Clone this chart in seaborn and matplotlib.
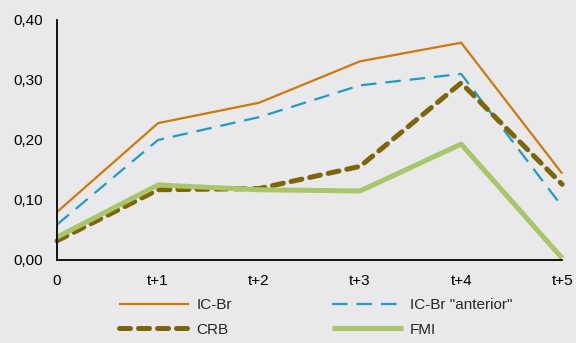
import matplotlib
matplotlib.use("Agg")
import matplotlib.pyplot as plt
import seaborn as sns
import pandas as pd
from matplotlib.ticker import FuncFormatter

periods = ["0", "t+1", "t+2", "t+3", "t+4", "t+5"]
ic_br = [0.080, 0.228, 0.262, 0.331, 0.362, 0.144]
ic_br_anterior = [0.059, 0.200, 0.238, 0.291, 0.310, 0.089]
crb = [0.032, 0.117, 0.119, 0.156, 0.295, 0.126]
fmi = [0.038, 0.125, 0.117, 0.115, 0.193, 0.003]

series = {
    "IC-Br": ic_br,
    'IC-Br "anterior"': ic_br_anterior,
    "CRB": crb,
    "FMI": fmi,
}
styles = {
    "IC-Br": dict(color="#cc7a0a", lw=1.6, ls="-"),
    'IC-Br "anterior"': dict(color="#1e9cc4", lw=1.6, ls=(0, (7, 4))),
    "CRB": dict(color="#7d6608", lw=3.6, ls=(0, (2.2, 1.6))),
    "FMI": dict(color="#a9c66a", lw=3.6, ls="-"),
}

sns.set_style("white")
plt.rcParams["font.family"] = ["Liberation Sans", "DejaVu Sans"]

fig = plt.figure(figsize=(5.76, 3.43), dpi=100)
bg = "#e9e9ec"
fig.patch.set_facecolor(bg)
ax = fig.add_axes([0.099, 0.242, 0.877, 0.700])
ax.set_facecolor(bg)

xs = list(range(len(periods)))
for name, vals in series.items():
    df = pd.DataFrame({"x": xs, "y": vals})
    st = styles[name]
    sns.lineplot(data=df, x="x", y="y", ax=ax, color=st["color"],
                 linewidth=st["lw"], label=name)
    l = ax.get_lines()[-1]
    l.set_linestyle(st["ls"])
    if name == "CRB":
        l.set_dash_capstyle("round")
    l.set_solid_capstyle("butt")
    l.set_clip_on(False)

ax.set_xlim(0, 5)
ax.set_ylim(0, 0.40)
ax.set_xticks(xs)
ax.set_xticklabels(periods)
ax.set_yticks([0, 0.1, 0.2, 0.3, 0.4])
ax.yaxis.set_major_formatter(FuncFormatter(lambda v, p: f"{v:.2f}".replace(".", ",")))
ax.set_xlabel("")
ax.set_ylabel("")
for s in ["top", "right"]:
    ax.spines[s].set_visible(False)
for s in ["left", "bottom"]:
    ax.spines[s].set_color("black")
    ax.spines[s].set_linewidth(1.3)
ax.tick_params(axis="both", direction="out", length=4, width=1.3, color="black",
               labelsize=11, labelcolor="black", pad=6)

# legend: two rows, filled row by row
handles, labels = ax.get_legend_handles_labels()
order = [0, 2, 1, 3]
handles = [handles[i] for i in order]
labels = [labels[i] for i in order]
ax.get_legend().remove()
leg = fig.legend(handles, labels, loc="upper left",
                 bbox_to_anchor=(119 / 576, 1 - 298 / 343),
                 ncol=2, frameon=False, fontsize=11, handlelength=4.6,
                 columnspacing=6.6, handletextpad=0.45, labelspacing=0.7,
                 borderpad=0, borderaxespad=0)
for h, name in zip(leg.get_lines(), labels):
    h.set_linestyle(styles[name]["ls"])
    h.set_linewidth(styles[name]["lw"])
    if name == "CRB":
        h.set_dash_capstyle("round")

fig.savefig("out.png", dpi=100, facecolor=bg)
